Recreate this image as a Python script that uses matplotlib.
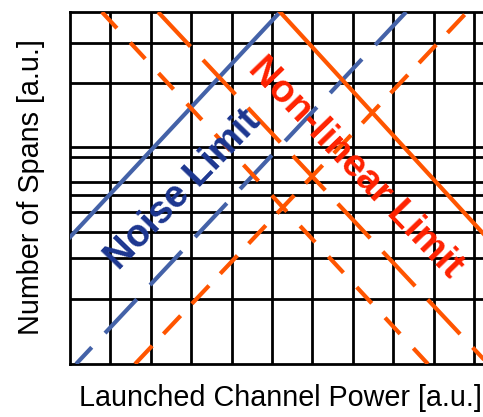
import matplotlib
matplotlib.use("Agg")
import matplotlib.pyplot as plt

plt.rcParams['font.family'] = ['Liberation Sans', 'DejaVu Sans']
plt.rcParams['lines.scale_dashes'] = False

# grid positions (a.u.)
power_grid = [1, 2, 3, 4, 5, 6, 7, 8, 9, 10]
span_grid = [1.61, 2.62, 3.27, 3.76, 4.18, 4.50, 5.12, 5.37, 6.96, 7.95]

# limit lines, end points in (power, spans)
noise_solid_x = [0.0, 5.20]
noise_solid_y = [3.14, 8.713]
noise_dash_x = [0.15, 8.32]
noise_dash_y = [0.0, 8.713]
nl_rise_x = [1.61, 9.83]
nl_rise_y = [0.0, 8.713]
nl_short_x = [0.79, 8.86]
nl_short_y = [8.713, 0.0]
nl_long_x = [2.18, 10.35]
nl_long_y = [8.713, 0.0]
nl_solid_x = [5.20, 13.19]
nl_solid_y = [8.713, 0.0]

BLUE = '#4462a8'
ORANGE = '#ff5500'
NAVY = '#1c3690'
RED = '#ff2200'

fig = plt.figure(figsize=(4.83, 4.17), dpi=100)
ax = fig.add_axes([70 / 483, 53 / 417, 424.2 / 483, 352 / 417])
ax.set_xlim(0, 10.5)
ax.set_ylim(0, 8.713)

# black grid
for xv in power_grid:
    ax.axvline(xv, color='black', lw=2.0, zorder=1)
for yv in span_grid:
    ax.axhline(yv, color='black', lw=2.0, zorder=1)
for side in ['left', 'top', 'bottom', 'right']:
    ax.spines[side].set_linewidth(2.0)
ax.set_xticks([])
ax.set_yticks([])

lw = 3.0
ax.plot(noise_solid_x, noise_solid_y, color=BLUE, lw=lw, zorder=3)
ax.plot(noise_dash_x, noise_dash_y, color=BLUE, lw=lw, zorder=3,
        linestyle=(16.9, (33.4, 14.0)))
ax.plot(nl_rise_x, nl_rise_y, color=ORANGE, lw=lw, zorder=3,
        linestyle=(0, (18.0, 11.8)))
ax.plot(nl_short_x, nl_short_y, color=ORANGE, lw=lw, zorder=3,
        linestyle=(0, (15.9, 14.1)))
ax.plot(nl_long_x, nl_long_y, color=ORANGE, lw=lw, zorder=3,
        linestyle=(0, (34.1, 13.2)))
ax.plot(nl_solid_x, nl_solid_y, color=ORANGE, lw=lw, zorder=3)

ax.text(2.80, 4.31, 'Noise Limit', color=NAVY, fontsize=27.5, fontweight='bold',
        rotation=46, rotation_mode='anchor', ha='center', va='center', zorder=4)
ax.text(7.05, 4.85, 'Non-linear Limit', color=RED, fontsize=27.5, fontweight='bold',
        rotation=-46, rotation_mode='anchor', ha='center', va='center', zorder=4)

fig.text(280 / 483, 1 - 398 / 417, 'Launched Channel Power [a.u.]',
         fontsize=20.7, ha='center', va='center')
fig.text(31 / 483, 1 - 187 / 417, 'Number of Spans [a.u.]',
         fontsize=20.7, ha='center', va='center', rotation=90)

fig.savefig('out.png', dpi=100)
